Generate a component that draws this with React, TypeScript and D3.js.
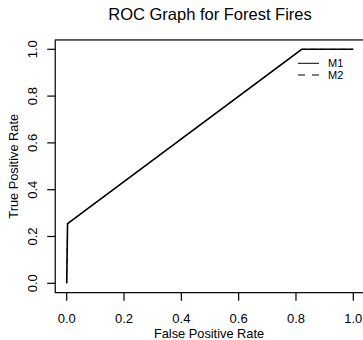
import React from "react";
import * as d3 from "d3";

const fprM1 = [0, 0.003, 0.82, 1];
const tprM1 = [0, 0.255, 1, 1];
const fprM2 = [0, 0.003, 0.82, 1];
const tprM2 = [0, 0.255, 1, 1];
const xTicks = [0, 0.2, 0.4, 0.6, 0.8, 1.0];
const yTicks = [0, 0.2, 0.4, 0.6, 0.8, 1.0];
const seriesNames = ["M1", "M2"];
const title = "ROC Graph for Forest Fires";
const xLabel = "False Positive Rate";
const yLabel = "True Positive Rate";

export default function App() {
  const W = 363, H = 340;
  const x = d3.scaleLinear().domain([0, 1]).range([66.7, 353.3]);
  const y = d3.scaleLinear().domain([0, 1]).range([283.3, 49.3]);
  const x0 = x(-0.04), x1 = x(1.04), y0 = y(-0.04), y1 = y(1.04);
  const line = d3.line<[number, number]>().x(d => x(d[0])).y(d => y(d[1]));
  const m1 = fprM1.map((v, i) => [v, tprM1[i]] as [number, number]);
  const m2 = fprM2.map((v, i) => [v, tprM2[i]] as [number, number]);
  const font = "Liberation Sans, Arial, Helvetica, sans-serif";
  const fmt = d3.format(".1f");
  return (
    <svg width={W} height={H} style={{ position: "absolute", left: 0, top: 0, background: "#fff" }} fontFamily={font}>
      <text x={(x0 + x1) / 2} y={20} textAnchor="middle" fontSize={16.5} fill="#000">{title}</text>
      <path d={line(m2) || ""} fill="none" stroke="#000" strokeWidth={0.8} strokeDasharray="6,4" />
      <path d={line(m1) || ""} fill="none" stroke="#000" strokeWidth={1.6} />
      <rect x={x0} y={y1} width={x1 - x0} height={y0 - y1} fill="none" stroke="#000" strokeWidth={1.2} />
      {xTicks.map(t => (
        <g key={"x" + t}>
          <line x1={x(t)} x2={x(t)} y1={y0} y2={y0 + 8} stroke="#000" strokeWidth={1.2} />
          <text x={x(t)} y={322.5} textAnchor="middle" fontSize={13} fill="#000">{fmt(t)}</text>
        </g>
      ))}
      {yTicks.map(t => (
        <g key={"y" + t}>
          <line x1={x0} x2={x0 - 8} y1={y(t)} y2={y(t)} stroke="#000" strokeWidth={1.2} />
          <text transform={`translate(37.3,${y(t)}) rotate(-90)`} textAnchor="middle" fontSize={13} fill="#000">{fmt(t)}</text>
        </g>
      ))}
      <text x={(x0 + x1) / 2 - 1} y={337.5} textAnchor="middle" fontSize={12.8} fill="#000">{xLabel}</text>
      <text transform={`translate(17.5,${(y0 + y1) / 2}) rotate(-90)`} textAnchor="middle" fontSize={12.8} fill="#000">{yLabel}</text>
      {seriesNames.map((n, i) => (
        <g key={n}>
          <line x1={298} x2={319} y1={63.3 + i * 11.7} y2={63.3 + i * 11.7} stroke="#000" strokeWidth={1} strokeDasharray={i === 1 ? "7,7" : undefined} />
          <text x={328} y={63.3 + i * 11.7 + 4} fontSize={11} fill="#000">{n}</text>
        </g>
      ))}
    </svg>
  );
}
